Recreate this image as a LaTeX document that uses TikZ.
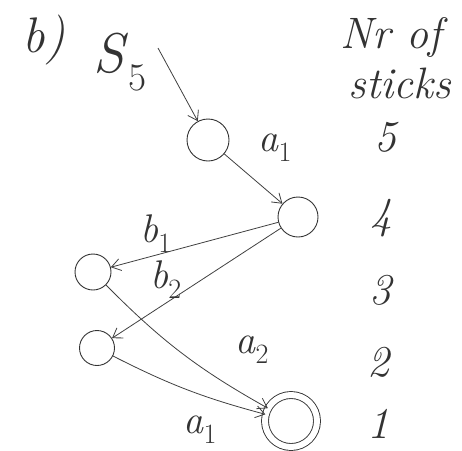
\documentclass[tikz,border=0pt]{standalone}
\usepackage{fontspec}
\usetikzlibrary{arrows.meta,positioning}
\newcommand{\lb}[2]{\textit{#1}\textsubscript{#2}}
\begin{document}
\begin{tikzpicture}[x=1pt,y=-1pt,
  state/.style={draw=black!80,circle,line width=0.9pt,minimum size=40pt,inner sep=0pt},
  accept/.style={state,double=white,double distance=6pt,minimum size=52pt},
  edge/.style={draw=black!75,line width=0.8pt,-{Straight Barb[length=9pt,width=12pt]}},
  lbl/.style={font=\fontsize{40}{42}\selectfont,text=black!80,inner sep=0pt},
  num/.style={font=\fontsize{44}{46}\selectfont\itshape,text=black!80,inner sep=0pt}]
\useasboundingbox (0,0) rectangle (462,450);
% states
\node[state,minimum size=42pt] (s5) at (208,140) {};
\node[state] (s4) at (298,217) {};
\node[state,minimum size=36pt] (s3) at (93,272) {};
\node[state,minimum size=35pt] (s2) at (97,348) {};
\node[accept] (s1) at (291,421) {};
% start
\node[font=\fontsize{50}{52}\selectfont\itshape,text=black!80,inner sep=0pt] (b) at (44,40) {b)};
\node[font=\fontsize{56}{58}\selectfont,text=black!80,inner sep=0pt] (S5) at (120,62) {\lb{S}{5}};
\coordinate (st) at (158,48);
\draw[edge] (st) -- (s5);
% edges
\draw[edge] (s5) -- (s4);
\draw[edge] (s4) -- (s3);
\draw[edge] (s4) -- (s2);
\draw[edge] (s3) to[bend right=8] (s1);
\draw[edge] (s2) to[bend right=6] (s1);
% edge labels
\node[lbl] (la1) at (275,148) {\lb{a}{1}};
\node[lbl] (lb1) at (156,234) {\lb{b}{1}};
\node[lbl] (lb2) at (166,280) {\lb{b}{2}};
\node[lbl] (la2) at (252,350) {\lb{a}{2}};
\node[lbl] (la1b) at (200,430) {\lb{a}{1}};
% right column
\node[num] (h1) at (391,37) {Nr of};
\node[num] (h2) at (400,83) {sticks};
\node[num] (n5) at (385,137) {5};
\node[num] (n4) at (381,218) {4};
\node[num] (n3) at (380,290) {3};
\node[num] (n2) at (378,362) {2};
\node[num] (n1) at (378,424) {1};
\end{tikzpicture}
\end{document}
